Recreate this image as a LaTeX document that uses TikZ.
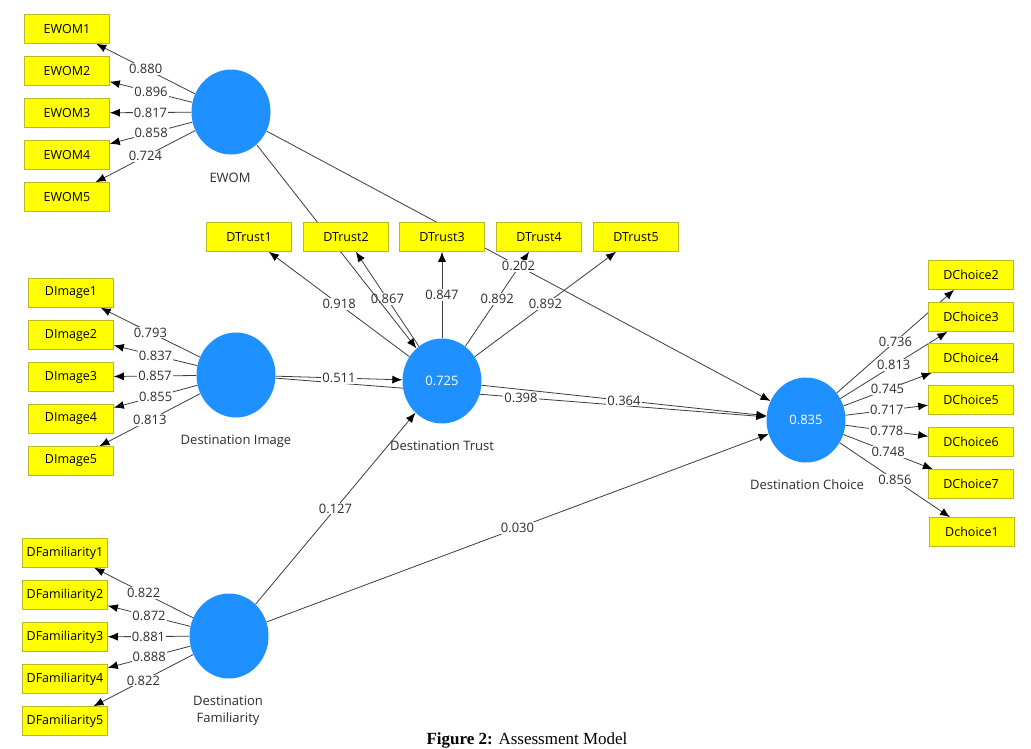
\documentclass[tikz,border=0pt]{standalone}
\usepackage{fontspec}
\usetikzlibrary{arrows.meta, shapes.geometric, backgrounds}
\setmainfont{Open Sans}
\newfontfamily\capfont{Liberation Serif}

\definecolor{cLatent}{RGB}{30,144,255}
\definecolor{cInd}{RGB}{255,255,0}
\definecolor{cIndLine}{RGB}{185,185,40}
\definecolor{cEdge}{RGB}{60,60,60}
\definecolor{cText}{RGB}{45,45,45}

\begin{document}
\begin{tikzpicture}[x=1pt, y=-1pt,
  lv/.style={ellipse, fill=cLatent, minimum width=79pt, minimum height=85pt,
    inner sep=0pt, text=white, font=\fontsize{13}{15}\selectfont},
  ind/.style={rectangle, fill=cInd, draw=cIndLine, line width=0.6pt,
    minimum width=85pt, minimum height=29pt, inner sep=0pt, text=black,
    font=\fontsize{12.5}{14}\selectfont},
  lvname/.style={text=cText, font=\fontsize{13}{17}\selectfont, align=center},
  lnk/.style={draw=cEdge, line width=0.8pt,
    -{Latex[length=10pt, width=8pt, color=black]}},
  coef/.style={fill=white, inner sep=1pt, text=cText,
    font=\fontsize{13}{15}\selectfont}]

\useasboundingbox (0,0) rectangle (1031,748);

% ── Latent variables ──
\node[lv] (ewom) at (231,112) {};
\node[lv] (dimg) at (236,375) {};
\node[lv] (dtru) at (442,381) {0.725};
\node[lv] (dcho) at (806,420) {0.835};
\node[lv] (dfam) at (229,636) {};

\node[lvname] (ewomname) at (230,178) {EWOM};
\node[lvname] (dimgname) at (236,441) {Destination Image};
\node[lvname] (dtruname) at (442,446) {Destination Trust};
\node[lvname] (dchoname) at (807,485) {Destination Choice};
\node[lvname] (dfamname) at (228,711) {Destination\\Familiarity};

% ── Indicators ──
\foreach \i/\y in {1/29, 2/71, 3/113, 4/155, 5/197}
    \node[ind] (ewom\i) at (67,\y) {EWOM\i};
\foreach \i/\y in {1/293, 2/335, 3/377, 4/419, 5/461}
    \node[ind] (dimg\i) at (71,\y) {DImage\i};
\foreach \i/\y in {1/553, 2/595, 3/637, 4/679, 5/721}
    \node[ind] (dfam\i) at (65,\y) {DFamiliarity\i};
\foreach \i/\x in {1/249, 2/346, 3/442, 4/539, 5/636}
    \node[ind] (dtru\i) at (\x,237) {DTrust\i};
\foreach \i/\y in {2/275, 3/317, 4/358, 5/400, 6/442, 7/484}
    \node[ind] (dcho\i) at (971,\y) {DChoice\i};
\node[ind] (dcho1) at (972,532) {Dchoice1};

% ── Caption ──
\node[anchor=base, font=\capfont\fontsize{17}{20}\selectfont] (caption) at (527,744)
    {\textbf{Figure 2:} Assessment Model};

\begin{scope}[on background layer]
\fill[white] (0,0) rectangle (1031,748);

% ── Outer loadings ──
\foreach \i/\ld in {1/0.880, 2/0.896, 3/0.817, 4/0.858, 5/0.724}
    \draw[lnk] (ewom) -- node[coef] {\ld} (ewom\i);
\foreach \i/\ld in {1/0.793, 2/0.837, 3/0.857, 4/0.855, 5/0.813}
    \draw[lnk] (dimg) -- node[coef] {\ld} (dimg\i);
\foreach \i/\ld in {1/0.822, 2/0.872, 3/0.881, 4/0.888, 5/0.822}
    \draw[lnk] (dfam) -- node[coef] {\ld} (dfam\i);
\foreach \i/\ld in {1/0.918, 2/0.867, 3/0.847, 4/0.892, 5/0.892}
    \draw[lnk] (dtru) -- node[coef] {\ld} (dtru\i);
\foreach \i/\ld in {2/0.736, 3/0.813, 4/0.745, 5/0.717, 6/0.778, 7/0.748, 1/0.856}
    \draw[lnk] (dcho) -- node[coef] {\ld} (dcho\i);

% ── Inner model paths ──
\draw[lnk] (ewom) -- (dtru);
\draw[lnk] (ewom) -- (dcho);
\draw[lnk] (dimg) -- (dtru);
\draw[lnk] (dimg) -- (dcho);
\draw[lnk] (dtru) -- (dcho);
\draw[lnk] (dfam) -- (dtru);
\draw[lnk] (dfam) -- (dcho);

% ── Path coefficients ──
\path (ewom) -- node[coef] {0.202} (dcho);
\path (dimg) -- node[coef] {0.511} (dtru);
\path (dimg) -- node[coef] {0.398} (dcho);
\path (dtru) -- node[coef] {0.364} (dcho);
\path (dfam) -- node[coef] {0.127} (dtru);
\path (dfam) -- node[coef] {0.030} (dcho);
\end{scope}

\end{tikzpicture}
\end{document}
